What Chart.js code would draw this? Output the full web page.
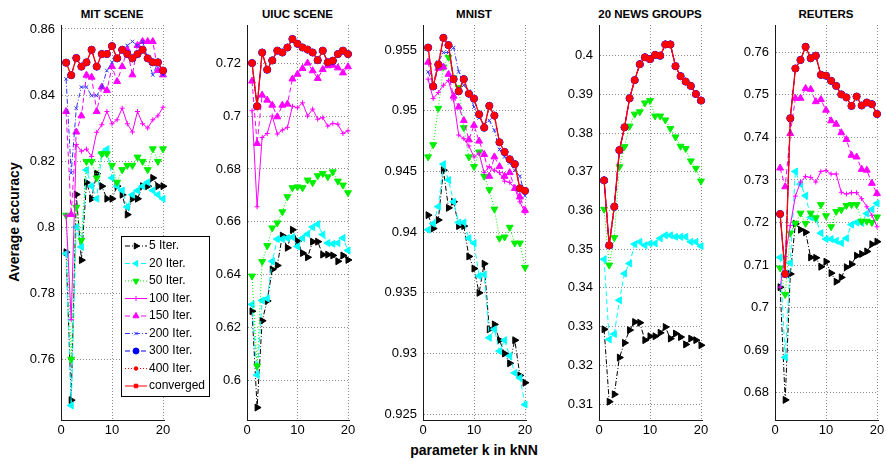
<!DOCTYPE html>
<html><head><meta charset="utf-8">
<script src="https://cdn.jsdelivr.net/npm/chart.js@4.4.1/dist/chart.umd.min.js"></script>
<style>
html,body{margin:0;padding:0;background:#fff;}
body{width:886px;height:461px;overflow:hidden;position:relative;font-family:"Liberation Sans",Arial,sans-serif;color:#000;}
canvas{position:absolute;top:0;}
.ttl{position:absolute;top:14px;transform:translate(-50%,-50%);font-weight:bold;font-size:11.5px;white-space:nowrap;}
#ylab{position:absolute;left:14px;top:222px;transform:translate(-50%,-50%) rotate(-90deg);font-weight:bold;font-size:14px;white-space:nowrap;}
#xlab{position:absolute;left:474px;top:450px;transform:translate(-50%,-50%);font-weight:bold;font-size:14px;white-space:nowrap;}
</style></head>
<body>
<div class="ttl" style="left:112px">MIT SCENE</div>
<div class="ttl" style="left:297.5px">UIUC SCENE</div>
<div class="ttl" style="left:474px">MNIST</div>
<div class="ttl" style="left:650px">20 NEWS GROUPS</div>
<div class="ttl" style="left:826px">REUTERS</div>
<div id="ylab">Average accuracy</div>
<div id="xlab">parameter k in kNN</div>
<script>
// ---------- data ----------
const kValues = [1,2,3,4,5,6,7,8,9,10,11,12,13,14,15,16,17,18,19,20];
const xTicks = [0,10,20];
const seriesLabels = ['5 Iter.','20 Iter.','50 Iter.','100 Iter.','150 Iter.','200 Iter.','300 Iter.','400 Iter.','converged'];

// MIT SCENE
const mitYTicks = [0.76,0.78,0.80,0.82,0.84,0.86];
const mitYLabels = ['0.76','0.78','0.8','0.82','0.84','0.86'];
const mit_it5   = [0.7924,0.7476,0.8099,0.7900,0.8135,0.8086,0.8162,0.8124,0.8086,0.8086,0.8124,0.8098,0.8038,0.8086,0.8086,0.8124,0.8124,0.8149,0.8124,0.8124];
const mit_it20  = [0.7920,0.7460,0.8000,0.7940,0.8173,0.8124,0.8086,0.8224,0.8236,0.8149,0.8124,0.8111,0.8061,0.8098,0.8111,0.8124,0.8136,0.8111,0.8098,0.8086];
const mit_it50  = [0.8036,0.7600,0.8060,0.7960,0.8199,0.8199,0.8149,0.8222,0.8222,0.8187,0.8136,0.8174,0.8187,0.8187,0.8212,0.8199,0.8174,0.8237,0.8199,0.8237];
const mit_it100 = [0.8036,0.7720,0.8250,0.8230,0.8236,0.8214,0.8287,0.8310,0.8350,0.8313,0.8325,0.8360,0.8313,0.8288,0.8350,0.8313,0.8300,0.8325,0.8337,0.8363];
const mit_it150 = [0.8350,0.8038,0.8288,0.8337,0.8460,0.8454,0.8350,0.8424,0.8414,0.8486,0.8441,0.8486,0.8537,0.8461,0.8550,0.8562,0.8562,0.8562,0.8474,0.8461];
const mit_it200 = [0.8449,0.8164,0.8360,0.8424,0.8424,0.8398,0.8398,0.8424,0.8474,0.8499,0.8511,0.8537,0.8550,0.8562,0.8550,0.8562,0.8511,0.8461,0.8499,0.8461];
const mit_it300 = [0.8498,0.8460,0.8512,0.8486,0.8499,0.8537,0.8486,0.8524,0.8524,0.8548,0.8511,0.8537,0.8524,0.8511,0.8524,0.8537,0.8511,0.8499,0.8499,0.8474];
const mit_it400 = [0.8498,0.8460,0.8512,0.8486,0.8499,0.8537,0.8486,0.8524,0.8524,0.8548,0.8511,0.8537,0.8524,0.8511,0.8524,0.8537,0.8511,0.8499,0.8499,0.8474];
const mit_conv  = [0.8498,0.8460,0.8512,0.8486,0.8499,0.8537,0.8486,0.8524,0.8524,0.8548,0.8511,0.8537,0.8524,0.8511,0.8524,0.8537,0.8511,0.8499,0.8499,0.8474];

// UIUC SCENE
const uiucYTicks = [0.60,0.62,0.64,0.66,0.68,0.70,0.72];
const uiucYLabels = ['0.6','0.62','0.64','0.66','0.68','0.7','0.72'];
const uiuc_it5   = [0.6262,0.5898,0.6226,0.6301,0.6420,0.6435,0.6548,0.6502,0.6570,0.6527,0.6482,0.6466,0.6525,0.6525,0.6476,0.6476,0.6473,0.6451,0.6473,0.6456];
const uiuc_it20  = [0.6288,0.6021,0.6303,0.6310,0.6451,0.6535,0.6535,0.6539,0.6542,0.6507,0.6539,0.6554,0.6580,0.6591,0.6552,0.6520,0.6517,0.6520,0.6539,0.6492];
const uiuc_it50  = [0.6395,0.6055,0.6450,0.6510,0.6577,0.6596,0.6638,0.6695,0.6729,0.6732,0.6729,0.6758,0.6748,0.6774,0.6783,0.6770,0.6789,0.6754,0.6739,0.6710];
const uiuc_it100 = [0.7020,0.6657,0.6919,0.6934,0.7000,0.6932,0.6947,0.6957,0.7037,0.7031,0.7050,0.7000,0.7026,0.6988,0.6994,0.6962,0.6972,0.6969,0.6934,0.6944];
const uiuc_it150 = [0.7132,0.6896,0.7079,0.7060,0.7041,0.6997,0.7041,0.7045,0.7140,0.7158,0.7180,0.7200,0.7171,0.7142,0.7176,0.7190,0.7192,0.7182,0.7163,0.7186];
const uiuc_it200 = [0.7200,0.7037,0.7240,0.7175,0.7210,0.7247,0.7240,0.7259,0.7291,0.7273,0.7259,0.7251,0.7240,0.7211,0.7247,0.7203,0.7209,0.7234,0.7247,0.7234];
const uiuc_it300 = [0.7200,0.7037,0.7240,0.7175,0.7210,0.7247,0.7240,0.7259,0.7291,0.7273,0.7259,0.7251,0.7240,0.7211,0.7247,0.7203,0.7209,0.7234,0.7247,0.7234];
const uiuc_it400 = [0.7200,0.7037,0.7240,0.7175,0.7210,0.7247,0.7240,0.7259,0.7291,0.7273,0.7259,0.7251,0.7240,0.7211,0.7247,0.7203,0.7209,0.7234,0.7247,0.7234];
const uiuc_conv  = [0.7200,0.7037,0.7240,0.7175,0.7210,0.7247,0.7240,0.7259,0.7291,0.7273,0.7259,0.7251,0.7240,0.7211,0.7247,0.7203,0.7209,0.7234,0.7247,0.7234];

// MNIST
const mnistYTicks = [0.925,0.930,0.935,0.940,0.945,0.950,0.955];
const mnistYLabels = ['0.925','0.93','0.935','0.94','0.945','0.95','0.955'];
const mnist_it5   = [0.9414,0.9403,0.9410,0.9451,0.9420,0.9425,0.9405,0.9405,0.9380,0.9370,0.9350,0.9374,0.9320,0.9324,0.9311,0.9300,0.9292,0.9311,0.9282,0.9276];
const mnist_it20  = [0.9402,0.9407,0.9421,0.9456,0.9443,0.9425,0.9408,0.9408,0.9395,0.9391,0.9364,0.9365,0.9313,0.9320,0.9302,0.9311,0.9298,0.9284,0.9280,0.9258];
const mnist_it50  = [0.9462,0.9472,0.9502,0.9536,0.9544,0.9527,0.9519,0.9486,0.9462,0.9454,0.9466,0.9446,0.9435,0.9419,0.9395,0.9396,0.9404,0.9391,0.9391,0.9371];
const mnist_it100 = [0.9526,0.9510,0.9515,0.9521,0.9525,0.9509,0.9480,0.9477,0.9471,0.9462,0.9465,0.9449,0.9454,0.9451,0.9449,0.9442,0.9441,0.9436,0.9425,0.9416];
const mnist_it150 = [0.9540,0.9520,0.9535,0.9536,0.9530,0.9512,0.9503,0.9492,0.9476,0.9488,0.9475,0.9464,0.9446,0.9462,0.9454,0.9446,0.9449,0.9436,0.9429,0.9418];
const mnist_it200 = [0.9532,0.9521,0.9540,0.9548,0.9548,0.9552,0.9532,0.9521,0.9516,0.9503,0.9494,0.9489,0.9492,0.9484,0.9468,0.9462,0.9457,0.9451,0.9446,0.9430];
const mnist_it300 = [0.9552,0.9520,0.9538,0.9560,0.9554,0.9526,0.9516,0.9526,0.9514,0.9510,0.9497,0.9486,0.9504,0.9496,0.9474,0.9466,0.9460,0.9456,0.9436,0.9434];
const mnist_it400 = [0.9552,0.9520,0.9538,0.9560,0.9554,0.9526,0.9516,0.9526,0.9514,0.9510,0.9497,0.9486,0.9504,0.9496,0.9474,0.9466,0.9460,0.9456,0.9436,0.9434];
const mnist_conv  = [0.9552,0.9520,0.9538,0.9560,0.9554,0.9526,0.9516,0.9526,0.9514,0.9510,0.9497,0.9486,0.9504,0.9496,0.9474,0.9466,0.9460,0.9456,0.9436,0.9434];

// 20 NEWS GROUPS
const ngYTicks = [0.31,0.32,0.33,0.34,0.35,0.36,0.37,0.38,0.39,0.40];
const ngYLabels = ['0.31','0.32','0.33','0.34','0.35','0.36','0.37','0.38','0.39','0.4'];
const ng_it5   = [0.3293,0.3106,0.3125,0.3220,0.3258,0.3291,0.3312,0.3310,0.3265,0.3275,0.3275,0.3284,0.3299,0.3269,0.3282,0.3273,0.3254,0.3269,0.3265,0.3252];
const ng_it20  = [0.3474,0.3267,0.3281,0.3368,0.3437,0.3463,0.3513,0.3519,0.3510,0.3515,0.3515,0.3528,0.3536,0.3536,0.3532,0.3532,0.3532,0.3519,0.3519,0.3508];
const ng_it50  = [0.3603,0.3459,0.3530,0.3713,0.3765,0.3818,0.3849,0.3855,0.3878,0.3884,0.3844,0.3844,0.3834,0.3812,0.3790,0.3766,0.3760,0.3728,0.3709,0.3676];
const ng_it100 = [0.3678,0.3510,0.3610,0.3756,0.3815,0.3890,0.3937,0.3978,0.3996,0.3991,0.4002,0.4000,0.4029,0.4029,0.3973,0.3947,0.3933,0.3922,0.3901,0.3884];
const ng_it150 = [0.3678,0.3510,0.3610,0.3756,0.3815,0.3890,0.3937,0.3978,0.3996,0.3991,0.4002,0.4000,0.4029,0.4029,0.3973,0.3947,0.3933,0.3922,0.3901,0.3884];
const ng_it200 = [0.3678,0.3510,0.3610,0.3756,0.3815,0.3890,0.3937,0.3978,0.3996,0.3991,0.4002,0.4000,0.4029,0.4029,0.3973,0.3947,0.3933,0.3922,0.3901,0.3884];
const ng_it300 = [0.3678,0.3510,0.3610,0.3756,0.3815,0.3890,0.3937,0.3978,0.3996,0.3991,0.4002,0.4000,0.4029,0.4029,0.3973,0.3947,0.3933,0.3922,0.3901,0.3884];
const ng_it400 = [0.3678,0.3510,0.3610,0.3756,0.3815,0.3890,0.3937,0.3978,0.3996,0.3991,0.4002,0.4000,0.4029,0.4029,0.3973,0.3947,0.3933,0.3922,0.3901,0.3884];
const ng_conv  = [0.3678,0.3510,0.3610,0.3756,0.3815,0.3890,0.3937,0.3978,0.3996,0.3991,0.4002,0.4000,0.4029,0.4029,0.3973,0.3947,0.3933,0.3922,0.3901,0.3884];

// REUTERS
const reuYTicks = [0.68,0.69,0.70,0.71,0.72,0.73,0.74,0.75,0.76];
const reuYLabels = ['0.68','0.69','0.7','0.71','0.72','0.73','0.74','0.75','0.76'];
const reu_it5   = [0.7048,0.6783,0.7079,0.7197,0.7183,0.7177,0.7118,0.7117,0.7096,0.7108,0.7081,0.7061,0.7071,0.7095,0.7102,0.7122,0.7126,0.7132,0.7149,0.7155];
const reu_it20  = [0.7118,0.6883,0.7105,0.7320,0.7290,0.7263,0.7212,0.7208,0.7175,0.7161,0.7161,0.7157,0.7152,0.7163,0.7195,0.7200,0.7199,0.7221,0.7231,0.7245];
const reu_it50  = [0.7093,0.7031,0.7175,0.7198,0.7222,0.7198,0.7222,0.7211,0.7242,0.7216,0.7190,0.7226,0.7230,0.7240,0.7242,0.7242,0.7203,0.7203,0.7200,0.7213];
const reu_it100 = [0.7048,0.7120,0.7193,0.7262,0.7295,0.7308,0.7306,0.7295,0.7320,0.7322,0.7314,0.7314,0.7271,0.7267,0.7270,0.7270,0.7256,0.7237,0.7217,0.7190];
const reu_it150 = [0.7328,0.7284,0.7409,0.7492,0.7492,0.7515,0.7513,0.7484,0.7489,0.7464,0.7439,0.7431,0.7411,0.7395,0.7358,0.7354,0.7325,0.7323,0.7292,0.7268];
const reu_it200 = [0.7220,0.7079,0.7445,0.7562,0.7582,0.7613,0.7586,0.7592,0.7547,0.7545,0.7533,0.7521,0.7501,0.7494,0.7474,0.7496,0.7475,0.7482,0.7478,0.7455];
const reu_it300 = [0.7220,0.7079,0.7445,0.7562,0.7582,0.7613,0.7586,0.7592,0.7547,0.7545,0.7533,0.7521,0.7501,0.7494,0.7474,0.7496,0.7475,0.7482,0.7478,0.7455];
const reu_it400 = [0.7220,0.7079,0.7445,0.7562,0.7582,0.7613,0.7586,0.7592,0.7547,0.7545,0.7533,0.7521,0.7501,0.7494,0.7474,0.7496,0.7475,0.7482,0.7478,0.7455];
const reu_conv  = [0.7220,0.7079,0.7445,0.7562,0.7582,0.7613,0.7586,0.7592,0.7547,0.7545,0.7533,0.7521,0.7501,0.7494,0.7474,0.7496,0.7475,0.7482,0.7478,0.7455];

// ---------- styles ----------
const styles = [
  {color:'#000000', dash:[5,2,1,2], point:'triangle', rot:90,  r:4,   lr:3.5, lw:1},
  {color:'#00ffff', dash:[5,3],     point:'triangle', rot:-90, r:4,   lr:3.5, lw:1},
  {color:'#00ee00', dash:[1,2],     point:'triangle', rot:180, r:4,   lr:3.5, lw:1},
  {color:'#ff00ff', dash:[],        point:'cross',    rot:0,   r:2.5, lr:2.5, lw:1},
  {color:'#ff00ff', dash:[5,3],     point:'triangle', rot:0,   r:4,   lr:3.5, lw:1},
  {color:'#3333ff', dash:[5,2,1,2], point:'crossRot', rot:0,   r:2.5, lr:2.5, lw:1},
  {color:'#0000ff', dash:[5,3],     point:'circle',   rot:0,   r:3.6, lr:3,   lw:1},
  {color:'#ff0000', dash:[1,2],     point:'circle',   rot:0,   r:3.3, lr:1.8, lw:1},
  {color:'#ff0000', dash:[],        point:'rect',     rot:0,   r:2.5, lr:2.5, lw:1.3}
];

const panels = [
  {left:61,  w20:102, minCanvasW:216, ymin:0.7416, ymax:0.8612, ticks:mitYTicks,   labels:mitYLabels,   legend:true,
   series:[mit_it5,mit_it20,mit_it50,mit_it100,mit_it150,mit_it200,mit_it300,mit_it400,mit_conv]},
  {left:247, w20:101, minCanvasW:0, ymin:0.5851, ymax:0.7344, ticks:uiucYTicks,  labels:uiucYLabels,
   series:[uiuc_it5,uiuc_it20,uiuc_it50,uiuc_it100,uiuc_it150,uiuc_it200,uiuc_it300,uiuc_it400,uiuc_conv]},
  {left:423, w20:102, minCanvasW:0, ymin:0.92453, ymax:0.95706, ticks:mnistYTicks, labels:mnistYLabels,
   series:[mnist_it5,mnist_it20,mnist_it50,mnist_it100,mnist_it150,mnist_it200,mnist_it300,mnist_it400,mnist_conv]},
  {left:599, w20:102, minCanvasW:0, ymin:0.30587, ymax:0.40793, ticks:ngYTicks,   labels:ngYLabels,
   series:[ng_it5,ng_it20,ng_it50,ng_it100,ng_it150,ng_it200,ng_it300,ng_it400,ng_conv]},
  {left:775, w20:102, minCanvasW:0, ymin:0.67358, ymax:0.76642, ticks:reuYTicks,  labels:reuYLabels,
   series:[reu_it5,reu_it20,reu_it50,reu_it100,reu_it150,reu_it200,reu_it300,reu_it400,reu_conv]}
];

const FONT = '"Liberation Sans", Arial, sans-serif';
const legendPlugin = {
  id:'inlegend',
  afterDraw(chart){
    const ctx = chart.ctx;
    const dp = Chart.helpers && Chart.helpers.drawPoint;
    ctx.save();
    ctx.fillStyle = '#fff'; ctx.fillRect(121,236,88,160);
    ctx.strokeStyle = '#000'; ctx.lineWidth = 1; ctx.setLineDash([]);
    ctx.strokeRect(121.5,236.5,88,160);
    styles.forEach((s,i)=>{
      const y = 246 + i*17.5;
      ctx.save();
      ctx.setLineDash(s.dash); ctx.strokeStyle = s.color; ctx.lineWidth = 1;
      ctx.beginPath(); ctx.moveTo(125,y); ctx.lineTo(147,y); ctx.stroke();
      ctx.restore();
      if (dp) {
        ctx.save(); ctx.setLineDash([]);
        ctx.fillStyle = s.color; ctx.strokeStyle = s.color; ctx.lineWidth = 1;
        dp(ctx,{pointStyle:s.point, rotation:s.rot, radius:s.lr, borderWidth:1}, 136, y);
        ctx.restore();
      }
      ctx.fillStyle = '#000'; ctx.font = '12px ' + FONT; ctx.textBaseline = 'middle'; ctx.textAlign = 'left';
      ctx.fillText(seriesLabels[i], 149, y);
    });
    ctx.restore();
  }
};

const W = 61, RP = 14, H = 461, XH = 41, TOP = 25;
panels.forEach(p => {
  const plotW = p.w20 * 20.2 / 20;
  const cw = Math.max(Math.round(W + plotW + RP), p.minCanvasW);
  const cv = document.createElement('canvas');
  cv.width = cw; cv.height = H;
  cv.style.left = (p.left - W) + 'px';
  cv.style.width = cw + 'px'; cv.style.height = H + 'px';
  document.body.appendChild(cv);
  const datasets = styles.map((s,i)=>({
    label: seriesLabels[i],
    data: kValues.map((k,j)=>({x:k, y:p.series[i][j]})),
    borderColor: s.color, backgroundColor: s.color,
    borderWidth: s.lw, borderDash: s.dash,
    pointStyle: s.point, pointRotation: s.rot, pointRadius: s.r,
    pointBackgroundColor: s.color, pointBorderColor: s.color, pointBorderWidth: 1,
    tension: 0, fill: false, clip: false, order: 8 - i
  }));
  new Chart(cv, {
    type:'line',
    data:{datasets},
    options:{
      responsive:false, animation:false, devicePixelRatio:1,
      events:[],
      layout:{padding:{top:TOP, right: cw - W - plotW, bottom:0, left:0}},
      plugins:{legend:{display:false}, tooltip:{enabled:false}, title:{display:false}},
      scales:{
        x:{type:'linear', min:0, max:20.2,
           afterBuildTicks: s => { s.ticks = xTicks.map(v=>({value:v})); },
           afterFit: s => { s.height = XH; },
           ticks:{color:'#000', font:{family:FONT, size:13}, padding:3, maxRotation:0, callback:(v)=>String(v)},
           grid:{color:'#8c8c8c', lineWidth:1, drawTicks:false},
           border:{display:true, color:'#1a1a1a', width:1, dash:[1,2]}},
        y:{type:'linear', min:p.ymin, max:p.ymax,
           afterBuildTicks: s => { s.ticks = p.ticks.map(v=>({value:v})); },
           afterFit: s => { s.width = W; },
           ticks:{color:'#000', font:{family:FONT, size:13}, padding:6, callback:(v,i)=>p.labels[i]},
           grid:{color:'#8c8c8c', lineWidth:1, drawTicks:false},
           border:{display:true, color:'#1a1a1a', width:1, dash:[1,2]}}
      }
    },
    plugins: p.legend ? [legendPlugin] : []
  });
});
</script>
</body></html>
